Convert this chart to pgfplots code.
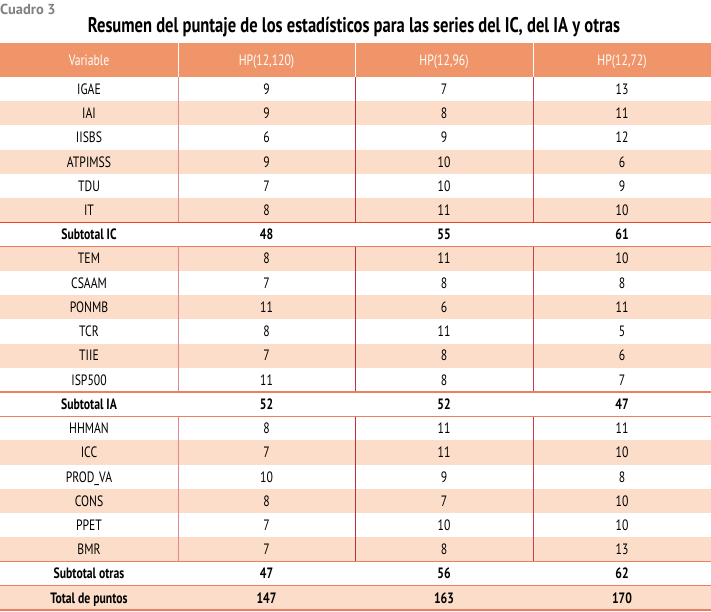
\documentclass[border=0pt]{standalone}
\usepackage{fontspec}
\setmainfont{PT Sans}[FakeStretch=0.78]
\newfontfamily\wide{PT Sans}
\usepackage{pgfplots}
\usepackage{pgfplotstable}
\pgfplotsset{compat=1.18}

\definecolor{hdr}{HTML}{F0956A}
\definecolor{peach}{HTML}{FCDDC9}
\definecolor{rule}{HTML}{EE7D62}
\definecolor{ruledark}{HTML}{E8452A}
\definecolor{vA}{HTML}{E08890}
\definecolor{vB}{HTML}{B8303C}
\definecolor{vC}{HTML}{C84050}
\definecolor{grey}{HTML}{808080}

% r = row index below the header
\pgfplotstableread[col sep=comma]{
r,var,a,b,c
0,IGAE,9,7,13
1,IAI,9,8,11
2,IISBS,6,9,12
3,ATPIMSS,9,10,6
4,TDU,7,10,9
5,IT,8,11,10
7,TEM,8,11,10
8,CSAAM,7,8,8
9,PONMB,11,6,11
10,TCR,8,11,5
11,TIIE,7,8,6
12,ISP500,11,8,7
14,HHMAN,8,11,11
15,ICC,7,11,10
16,PROD\_VA,10,9,8
17,CONS,8,7,10
18,PPET,7,10,10
19,BMR,7,8,13
}\normalrows

\pgfplotstableread[col sep=comma]{
r,var,a,b,c
6,Subtotal IC,48,55,61
13,Subtotal IA,52,52,47
20,Subtotal otras,47,56,62
21,Total de puntos,147,163,170
}\boldrows

\newcommand{\rh}{24.23}
\newcommand{\bodyfont}{\fontsize{15}{18}\selectfont}
\newcommand{\cellcol}[4]{%
  \addplot[draw=none, mark=none, nodes near coords, point meta=explicit symbolic,
    nodes near coords style={anchor=base, yshift=-5.2pt, font=#4, text=black, inner sep=0pt}]
    table[x expr=#2, y expr={77+\rh*(\thisrow{r}+0.5)}, meta=#3] {#1};}

\begin{document}
\begin{tikzpicture}
\begin{axis}[
    name=ax,
    scale only axis,
    width=711pt, height=611pt,
    xmin=0, xmax=711, ymin=0, ymax=611,
    y dir=reverse,
    hide axis,
    clip=false,
]
% header band and row shading
\fill[hdr] (axis cs:0,43) rectangle (axis cs:711,77);
\pgfplotsinvokeforeach{1,3,5,7,9,11,15,17,19,21}{
  \fill[peach] (axis cs:0,{77+\rh*#1}) rectangle (axis cs:711,{77+\rh*(#1+1)});
}
% header separators
\pgfplotsinvokeforeach{178,355,533}{
  \draw[white, line width=1pt] (axis cs:#1,43) -- (axis cs:#1,77);
}
% vertical rules in the body groups
\pgfplotsinvokeforeach{0,7,14}{
  \draw[vA, line width=1pt] (axis cs:178,{77+\rh*#1}) -- (axis cs:178,{77+\rh*(#1+6)});
  \draw[vB, line width=1pt] (axis cs:355,{77+\rh*#1}) -- (axis cs:355,{77+\rh*(#1+6)});
  \draw[vC, line width=1pt] (axis cs:533,{77+\rh*#1}) -- (axis cs:533,{77+\rh*(#1+6)});
}
% horizontal rules round the subtotal rows
\draw[ruledark, line width=1.3pt] (axis cs:0,{77+\rh*6}) -- (axis cs:711,{77+\rh*6});
\pgfplotsinvokeforeach{7,13,14,20,21,22}{
  \draw[rule, line width=1.3pt] (axis cs:0,{77+\rh*#1}) -- (axis cs:711,{77+\rh*#1});
}

% titles and header text
\node[anchor=west, inner sep=0pt, font=\wide\fontsize{14.5}{16}\selectfont\bfseries, text=grey] at (axis cs:0,9) {Cuadro 3};
\node[font=\fontsize{21.2}{24}\selectfont\bfseries] at (axis cs:354,27) {Resumen del puntaje de los estadísticos para las series del IC, del IA y otras};
\node[font=\bodyfont, text=white, anchor=base, inner sep=0pt, yshift=-5.2pt] at (axis cs:89,60) {Variable};
\node[font=\bodyfont, text=white, anchor=base, inner sep=0pt, yshift=-5.2pt] at (axis cs:266.5,60) {HP(12,120)};
\node[font=\bodyfont, text=white, anchor=base, inner sep=0pt, yshift=-5.2pt] at (axis cs:444,60) {HP(12,96)};
\node[font=\bodyfont, text=white, anchor=base, inner sep=0pt, yshift=-5.2pt] at (axis cs:622,60) {HP(12,72)};

% cells
\cellcol{\normalrows}{89}{var}{\bodyfont}
\cellcol{\normalrows}{266.5}{a}{\bodyfont}
\cellcol{\normalrows}{444}{b}{\bodyfont}
\cellcol{\normalrows}{622}{c}{\bodyfont}
\cellcol{\boldrows}{89}{var}{\bodyfont\bfseries}
\cellcol{\boldrows}{266.5}{a}{\bodyfont\bfseries}
\cellcol{\boldrows}{444}{b}{\bodyfont\bfseries}
\cellcol{\boldrows}{622}{c}{\bodyfont\bfseries}
\end{axis}
\pgfresetboundingbox
\path[use as bounding box] (ax.south west) rectangle (ax.north east);
\end{tikzpicture}
\end{document}
